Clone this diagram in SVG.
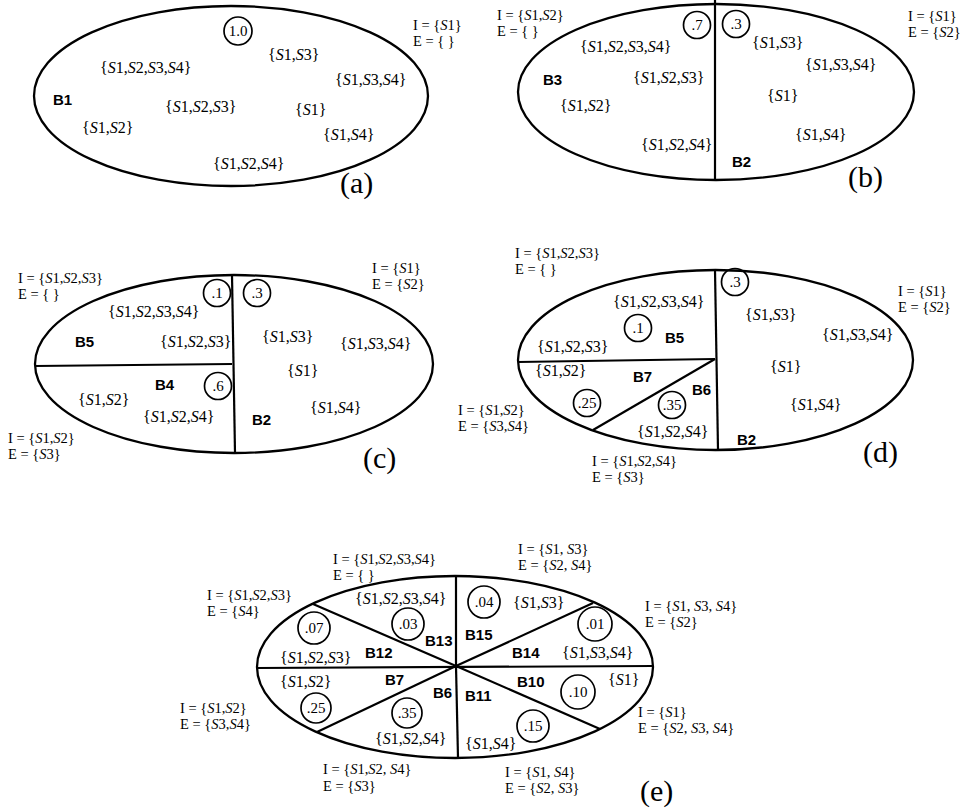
<svg xmlns="http://www.w3.org/2000/svg" width="974" height="809" viewBox="0 0 974 809">
<style>
.t{font-family:"Liberation Serif","Times New Roman",serif;font-size:16px;fill:#000}
.ie{font-family:"Liberation Serif","Times New Roman",serif;font-size:14.5px;fill:#000}
.b{font-family:"Liberation Sans",Arial,sans-serif;font-weight:bold;font-size:15px;fill:#000}
.i{font-style:italic}
.cap{font-family:"Liberation Serif","Times New Roman",serif;font-size:30px;fill:#000}
.n{text-anchor:middle;font-size:15px}
.el{fill:none;stroke:#000;stroke-width:2.3}
.ln{stroke:#000;stroke-width:2.2;fill:none}
.c{fill:none;stroke:#000;stroke-width:1.7}
</style>
<rect width="974" height="809" fill="#fff"/>

<!-- Panel (a) -->
<g id="panel-a">
  <ellipse class="el" cx="231" cy="96" rx="197" ry="90"/>
  <g id="a-B1">
    <text class="b" x="53" y="105">B1</text>
    <circle class="c" cx="238" cy="31" r="14"/><text class="t n" x="238" y="36">1.0</text>
    <text class="t" x="100" y="73">{<tspan class="i">S</tspan>1,<tspan class="i">S</tspan>2,<tspan class="i">S</tspan>3,<tspan class="i">S</tspan>4}</text>
    <text class="t" x="268" y="60">{<tspan class="i">S</tspan>1,<tspan class="i">S</tspan>3}</text>
    <text class="t" x="335" y="85">{<tspan class="i">S</tspan>1,<tspan class="i">S</tspan>3,<tspan class="i">S</tspan>4}</text>
    <text class="t" x="165" y="112">{<tspan class="i">S</tspan>1,<tspan class="i">S</tspan>2,<tspan class="i">S</tspan>3}</text>
    <text class="t" x="295" y="115">{<tspan class="i">S</tspan>1}</text>
    <text class="t" x="82" y="133">{<tspan class="i">S</tspan>1,<tspan class="i">S</tspan>2}</text>
    <text class="t" x="323" y="140">{<tspan class="i">S</tspan>1,<tspan class="i">S</tspan>4}</text>
    <text class="t" x="213" y="169">{<tspan class="i">S</tspan>1,<tspan class="i">S</tspan>2,<tspan class="i">S</tspan>4}</text>
    <text class="ie" x="413" y="30">I = {<tspan class="i">S</tspan>1}</text>
    <text class="ie" x="413" y="46">E = { }</text>
  </g>
  <text class="cap" x="340" y="193">(a)</text>
</g>

<!-- Panel (b) -->
<g id="panel-b">
  <ellipse class="el" cx="716" cy="92" rx="198" ry="88"/>
  <g id="b-connectors"><line class="ln" x1="715" y1="0" x2="715" y2="180"/></g>
  <g id="b-B3">
    <text class="b" x="543" y="85">B3</text>
    <circle class="c" cx="697" cy="25" r="13.5"/><text class="t n" x="697" y="30">.7</text>
    <text class="t" x="580" y="52">{<tspan class="i">S</tspan>1,<tspan class="i">S</tspan>2,<tspan class="i">S</tspan>3,<tspan class="i">S</tspan>4}</text>
    <text class="t" x="633" y="83">{<tspan class="i">S</tspan>1,<tspan class="i">S</tspan>2,<tspan class="i">S</tspan>3}</text>
    <text class="t" x="560" y="111">{<tspan class="i">S</tspan>1,<tspan class="i">S</tspan>2}</text>
    <text class="t" x="641" y="150">{<tspan class="i">S</tspan>1,<tspan class="i">S</tspan>2,<tspan class="i">S</tspan>4}</text>
    <text class="ie" x="497" y="20">I = {<tspan class="i">S</tspan>1,<tspan class="i">S</tspan>2}</text>
    <text class="ie" x="497" y="36">E = { }</text>
  </g>
  <g id="b-B2">
    <text class="b" x="732" y="167">B2</text>
    <circle class="c" cx="736" cy="24" r="13.5"/><text class="t n" x="736" y="29">.3</text>
    <text class="t" x="752" y="48">{<tspan class="i">S</tspan>1,<tspan class="i">S</tspan>3}</text>
    <text class="t" x="805" y="70">{<tspan class="i">S</tspan>1,<tspan class="i">S</tspan>3,<tspan class="i">S</tspan>4}</text>
    <text class="t" x="767" y="101">{<tspan class="i">S</tspan>1}</text>
    <text class="t" x="795" y="140">{<tspan class="i">S</tspan>1,<tspan class="i">S</tspan>4}</text>
    <text class="ie" x="908" y="21">I = {<tspan class="i">S</tspan>1}</text>
    <text class="ie" x="908" y="37">E = {<tspan class="i">S</tspan>2}</text>
  </g>
  <text class="cap" x="848" y="187">(b)</text>
</g>

<!-- Panel (c) -->
<g id="panel-c">
  <ellipse class="el" cx="234" cy="364" rx="199" ry="89"/>
  <g id="c-connectors">
    <line class="ln" x1="232" y1="275" x2="235" y2="453"/>
    <line class="ln" x1="35" y1="366" x2="232" y2="364"/>
  </g>
  <g id="c-B5">
    <text class="b" x="75" y="347">B5</text>
    <circle class="c" cx="217" cy="293" r="13.5"/><text class="t n" x="217" y="298">.1</text>
    <text class="t" x="108" y="317">{<tspan class="i">S</tspan>1,<tspan class="i">S</tspan>2,<tspan class="i">S</tspan>3,<tspan class="i">S</tspan>4}</text>
    <text class="t" x="160" y="347">{<tspan class="i">S</tspan>1,<tspan class="i">S</tspan>2,<tspan class="i">S</tspan>3}</text>
    <text class="ie" x="18" y="283">I = {<tspan class="i">S</tspan>1,<tspan class="i">S</tspan>2,<tspan class="i">S</tspan>3}</text>
    <text class="ie" x="18" y="299">E = { }</text>
  </g>
  <g id="c-B4">
    <text class="b" x="155" y="390">B4</text>
    <circle class="c" cx="218" cy="386" r="13.5"/><text class="t n" x="218" y="391">.6</text>
    <text class="t" x="78" y="405">{<tspan class="i">S</tspan>1,<tspan class="i">S</tspan>2}</text>
    <text class="t" x="143" y="422">{<tspan class="i">S</tspan>1,<tspan class="i">S</tspan>2,<tspan class="i">S</tspan>4}</text>
    <text class="ie" x="8" y="443">I = {<tspan class="i">S</tspan>1,<tspan class="i">S</tspan>2}</text>
    <text class="ie" x="8" y="459">E = {<tspan class="i">S</tspan>3}</text>
  </g>
  <g id="c-B2">
    <text class="b" x="252" y="425">B2</text>
    <circle class="c" cx="257" cy="293" r="13.5"/><text class="t n" x="257" y="298">.3</text>
    <text class="t" x="262" y="342">{<tspan class="i">S</tspan>1,<tspan class="i">S</tspan>3}</text>
    <text class="t" x="340" y="349">{<tspan class="i">S</tspan>1,<tspan class="i">S</tspan>3,<tspan class="i">S</tspan>4}</text>
    <text class="t" x="287" y="376">{<tspan class="i">S</tspan>1}</text>
    <text class="t" x="310" y="413">{<tspan class="i">S</tspan>1,<tspan class="i">S</tspan>4}</text>
    <text class="ie" x="372" y="273">I = {<tspan class="i">S</tspan>1}</text>
    <text class="ie" x="372" y="289">E = {<tspan class="i">S</tspan>2}</text>
  </g>
  <text class="cap" x="363" y="468">(c)</text>
</g>

<!-- Panel (d) -->
<g id="panel-d">
  <ellipse class="el" cx="715.5" cy="360" rx="197.5" ry="90"/>
  <g id="d-connectors">
    <line class="ln" x1="715" y1="270" x2="718" y2="450"/>
    <line class="ln" x1="518" y1="362" x2="715" y2="359"/>
    <line class="ln" x1="715" y1="359" x2="593" y2="430"/>
  </g>
  <g id="d-B5">
    <text class="b" x="665" y="343">B5</text>
    <circle class="c" cx="638" cy="328" r="13.5"/><text class="t n" x="638" y="333">.1</text>
    <text class="t" x="613" y="307">{<tspan class="i">S</tspan>1,<tspan class="i">S</tspan>2,<tspan class="i">S</tspan>3,<tspan class="i">S</tspan>4}</text>
    <text class="t" x="537" y="352">{<tspan class="i">S</tspan>1,<tspan class="i">S</tspan>2,<tspan class="i">S</tspan>3}</text>
    <text class="ie" x="515" y="258">I = {<tspan class="i">S</tspan>1,<tspan class="i">S</tspan>2,<tspan class="i">S</tspan>3}</text>
    <text class="ie" x="515" y="274">E = { }</text>
  </g>
  <g id="d-B7">
    <text class="b" x="633" y="382">B7</text>
    <circle class="c" cx="587" cy="403" r="13.5"/><text class="t n" x="587" y="408">.25</text>
    <text class="t" x="535" y="376">{<tspan class="i">S</tspan>1,<tspan class="i">S</tspan>2}</text>
    <text class="ie" x="458" y="415">I = {<tspan class="i">S</tspan>1,<tspan class="i">S</tspan>2}</text>
    <text class="ie" x="458" y="431">E = {<tspan class="i">S</tspan>3,<tspan class="i">S</tspan>4}</text>
  </g>
  <g id="d-B6">
    <text class="b" x="692" y="395">B6</text>
    <circle class="c" cx="672" cy="405" r="13.5"/><text class="t n" x="672" y="410">.35</text>
    <text class="t" x="637" y="437">{<tspan class="i">S</tspan>1,<tspan class="i">S</tspan>2,<tspan class="i">S</tspan>4}</text>
    <text class="ie" x="592" y="466">I = {<tspan class="i">S</tspan>1,<tspan class="i">S</tspan>2,<tspan class="i">S</tspan>4}</text>
    <text class="ie" x="592" y="482">E = {<tspan class="i">S</tspan>3}</text>
  </g>
  <g id="d-B2">
    <text class="b" x="737" y="445">B2</text>
    <circle class="c" cx="735" cy="282" r="13.5"/><text class="t n" x="735" y="287">.3</text>
    <text class="t" x="745" y="320">{<tspan class="i">S</tspan>1,<tspan class="i">S</tspan>3}</text>
    <text class="t" x="822" y="340">{<tspan class="i">S</tspan>1,<tspan class="i">S</tspan>3,<tspan class="i">S</tspan>4}</text>
    <text class="t" x="770" y="372">{<tspan class="i">S</tspan>1}</text>
    <text class="t" x="790" y="410">{<tspan class="i">S</tspan>1,<tspan class="i">S</tspan>4}</text>
    <text class="ie" x="898" y="296">I = {<tspan class="i">S</tspan>1}</text>
    <text class="ie" x="898" y="312">E = {<tspan class="i">S</tspan>2}</text>
  </g>
  <text class="cap" x="863" y="462">(d)</text>
</g>

<!-- Panel (e) -->
<g id="panel-e">
  <ellipse class="el" cx="455" cy="667" rx="198" ry="91"/>
  <g id="e-connectors">
    <line class="ln" x1="456" y1="666" x2="456" y2="576"/>
    <line class="ln" x1="456" y1="666" x2="458" y2="758"/>
    <line class="ln" x1="257" y1="668" x2="653" y2="666"/>
    <line class="ln" x1="456" y1="666" x2="313" y2="604"/>
    <line class="ln" x1="456" y1="666" x2="317" y2="732"/>
    <line class="ln" x1="456" y1="666" x2="593" y2="603"/>
    <line class="ln" x1="456" y1="666" x2="600" y2="729"/>
  </g>
  <g id="e-B13">
    <text class="b" x="425" y="646">B13</text>
    <circle class="c" cx="408" cy="624" r="16"/><text class="t n" x="408" y="629">.03</text>
    <text class="t" x="355" y="604">{<tspan class="i">S</tspan>1,<tspan class="i">S</tspan>2,<tspan class="i">S</tspan>3,<tspan class="i">S</tspan>4}</text>
    <text class="ie" x="333" y="564">I = {<tspan class="i">S</tspan>1,<tspan class="i">S</tspan>2,<tspan class="i">S</tspan>3,<tspan class="i">S</tspan>4}</text>
    <text class="ie" x="333" y="580">E = { }</text>
  </g>
  <g id="e-B12">
    <text class="b" x="365" y="658">B12</text>
    <circle class="c" cx="314" cy="628" r="16"/><text class="t n" x="314" y="633">.07</text>
    <text class="t" x="280" y="663">{<tspan class="i">S</tspan>1,<tspan class="i">S</tspan>2,<tspan class="i">S</tspan>3}</text>
    <text class="ie" x="207" y="600">I = {<tspan class="i">S</tspan>1,<tspan class="i">S</tspan>2,<tspan class="i">S</tspan>3}</text>
    <text class="ie" x="207" y="616">E = {<tspan class="i">S</tspan>4}</text>
  </g>
  <g id="e-B7">
    <text class="b" x="385" y="685">B7</text>
    <circle class="c" cx="316" cy="708" r="15"/><text class="t n" x="316" y="713">.25</text>
    <text class="t" x="280" y="687">{<tspan class="i">S</tspan>1,<tspan class="i">S</tspan>2}</text>
    <text class="ie" x="180" y="713">I = {<tspan class="i">S</tspan>1,<tspan class="i">S</tspan>2}</text>
    <text class="ie" x="180" y="729">E = {<tspan class="i">S</tspan>3,<tspan class="i">S</tspan>4}</text>
  </g>
  <g id="e-B6">
    <text class="b" x="433" y="698">B6</text>
    <circle class="c" cx="407" cy="713" r="15"/><text class="t n" x="407" y="718">.35</text>
    <text class="t" x="375" y="744">{<tspan class="i">S</tspan>1,<tspan class="i">S</tspan>2,<tspan class="i">S</tspan>4}</text>
    <text class="ie" x="323" y="774">I = {<tspan class="i">S</tspan>1,<tspan class="i">S</tspan>2, <tspan class="i">S</tspan>4}</text>
    <text class="ie" x="323" y="791">E = {<tspan class="i">S</tspan>3}</text>
  </g>
  <g id="e-B15">
    <text class="b" x="465" y="640">B15</text>
    <circle class="c" cx="484" cy="602" r="16"/><text class="t n" x="484" y="607">.04</text>
    <text class="t" x="513" y="608">{<tspan class="i">S</tspan>1,<tspan class="i">S</tspan>3}</text>
    <text class="ie" x="518" y="554">I = {<tspan class="i">S</tspan>1, <tspan class="i">S</tspan>3}</text>
    <text class="ie" x="518" y="570">E = {<tspan class="i">S</tspan>2, <tspan class="i">S</tspan>4}</text>
  </g>
  <g id="e-B14">
    <text class="b" x="512" y="658">B14</text>
    <circle class="c" cx="595" cy="624" r="17"/><text class="t n" x="595" y="629">.01</text>
    <text class="t" x="562" y="658">{<tspan class="i">S</tspan>1,<tspan class="i">S</tspan>3,<tspan class="i">S</tspan>4}</text>
    <text class="ie" x="645" y="611">I = {<tspan class="i">S</tspan>1, <tspan class="i">S</tspan>3, <tspan class="i">S</tspan>4}</text>
    <text class="ie" x="645" y="627">E = {<tspan class="i">S</tspan>2}</text>
  </g>
  <g id="e-B10">
    <text class="b" x="517" y="687">B10</text>
    <circle class="c" cx="578" cy="692" r="17"/><text class="t n" x="578" y="697">.10</text>
    <text class="t" x="608" y="685">{<tspan class="i">S</tspan>1}</text>
    <text class="ie" x="638" y="717">I = {<tspan class="i">S</tspan>1}</text>
    <text class="ie" x="638" y="733">E = {<tspan class="i">S</tspan>2, <tspan class="i">S</tspan>3, <tspan class="i">S</tspan>4}</text>
  </g>
  <g id="e-B11">
    <text class="b" x="465" y="701">B11</text>
    <circle class="c" cx="533" cy="726" r="16"/><text class="t n" x="533" y="731">.15</text>
    <text class="t" x="465" y="749">{<tspan class="i">S</tspan>1,<tspan class="i">S</tspan>4}</text>
    <text class="ie" x="505" y="777">I = {<tspan class="i">S</tspan>1, <tspan class="i">S</tspan>4}</text>
    <text class="ie" x="505" y="793">E = {<tspan class="i">S</tspan>2, <tspan class="i">S</tspan>3}</text>
  </g>
  <text class="cap" x="640" y="801">(e)</text>
</g>
</svg>
